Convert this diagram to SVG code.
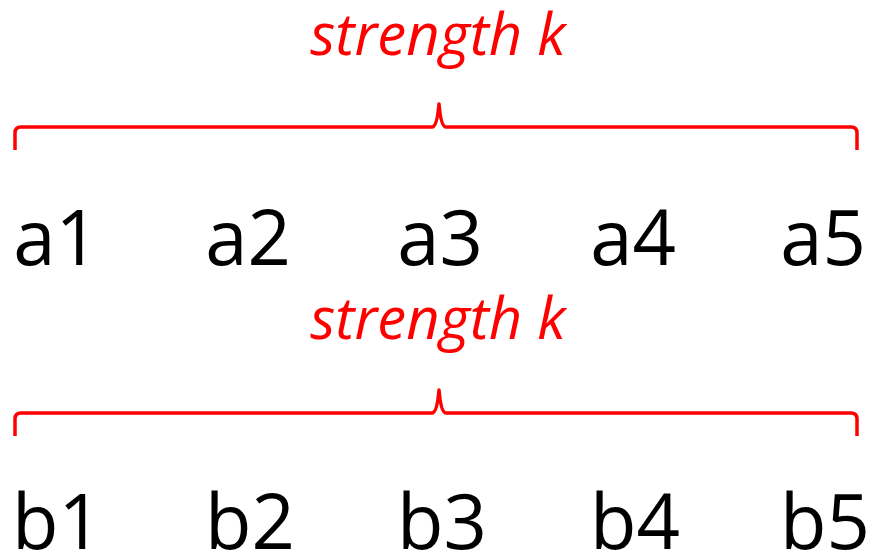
<svg xmlns="http://www.w3.org/2000/svg" width="870" height="556" viewBox="0 0 870 556">
  <style>
    .lbl { font-family: "Open Sans", "Noto Sans", sans-serif; font-size: 76px; fill: #000; text-anchor: middle; }
    .k { font-family: "Open Sans", "Noto Sans", sans-serif; font-style: italic; font-size: 58px; fill: #ff0000; text-anchor: middle; }
    .brace { fill: none; stroke: #ff0000; stroke-width: 3.5; stroke-linecap: butt; stroke-linejoin: round; }
  </style>
  <rect width="870" height="556" fill="#fff"/>
  <g id="connectors">
    <path class="brace" d="M15,150 V133 Q15,127 21,127 H432 Q437,127 439,104 Q441,127 446,127 H851 Q857,127 857,133 V150"/>
    <path class="brace" d="M15,436 V419 Q15,413 21,413 H432 Q437,413 439,390 Q441,413 446,413 H851 Q857,413 857,419 V436"/>
  </g>
  <g id="label-top"><text class="k" x="438" y="55">strength k</text></g>
  <g id="label-bottom"><text class="k" x="438" y="339">strength k</text></g>
  <g id="a1"><text class="lbl" x="56" y="265">a1</text></g>
  <g id="a2"><text class="lbl" x="248" y="265">a2</text></g>
  <g id="a3"><text class="lbl" x="440" y="265">a3</text></g>
  <g id="a4"><text class="lbl" x="633" y="265">a4</text></g>
  <g id="a5"><text class="lbl" x="823" y="265">a5</text></g>
  <g id="b1"><text class="lbl" x="57" y="549">b1</text></g>
  <g id="b2"><text class="lbl" x="250" y="549">b2</text></g>
  <g id="b3"><text class="lbl" x="442" y="549">b3</text></g>
  <g id="b4"><text class="lbl" x="635" y="549">b4</text></g>
  <g id="b5"><text class="lbl" x="825" y="549">b5</text></g>
</svg>
